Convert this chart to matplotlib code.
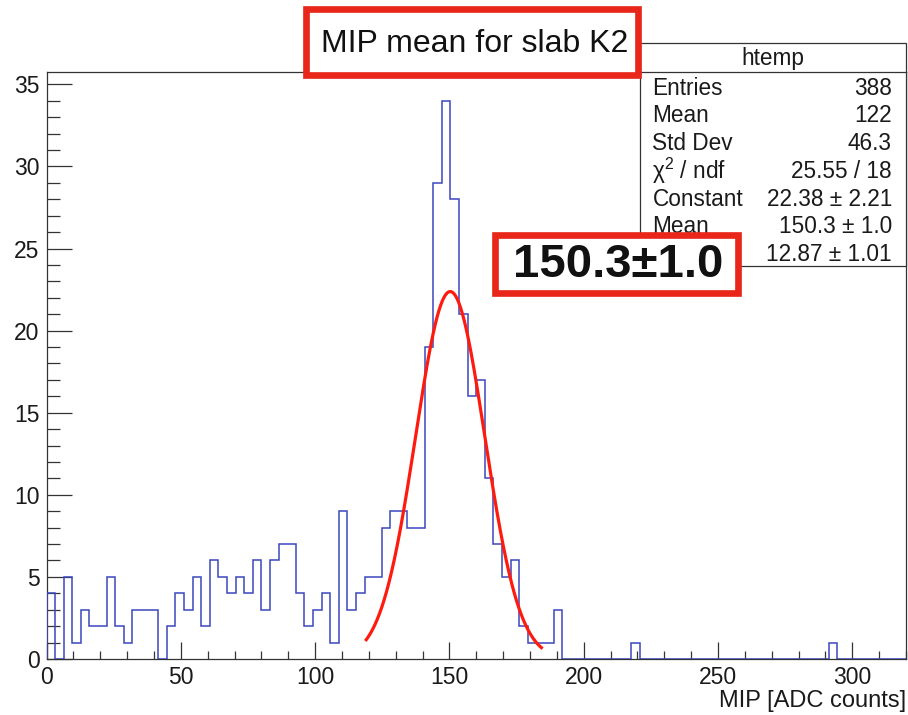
import numpy as np
import matplotlib
matplotlib.use("Agg")
import matplotlib.pyplot as plt
from matplotlib.ticker import MultipleLocator
from matplotlib.patches import Rectangle
from matplotlib.lines import Line2D

# ---------------- data ----------------
bin_lo, bin_hi, n_bins = 0.0, 320.0, 100
counts = [
    4, 0, 5, 1, 3, 2, 2, 5, 2, 1,
    3, 3, 3, 0, 2, 4, 3, 5, 2, 6,
    5, 4, 5, 4, 6, 3, 6, 7, 7, 4,
    2, 3, 4, 1, 9, 3, 4, 5, 5, 8,
    9, 9, 8, 8, 19, 29, 34, 28, 21, 16,
    17, 11, 7, 5, 6, 2, 1, 1, 1, 3,
    0, 0, 0, 0, 0, 0, 0, 0, 1, 0,
    0, 0, 0, 0, 0, 0, 0, 0, 0, 0,
    0, 0, 0, 0, 0, 0, 0, 0, 0, 0,
    0, 1, 0, 0, 0, 0, 0, 0, 0, 0,
]
fit_const, fit_mean, fit_sigma = 22.38, 150.3, 12.87
fit_range = (118.7, 184.7)

title = "MIP mean for slab K2"
xlabel = "MIP [ADC counts]"
stats_name = "htemp"
# last label ("Sigma") is hidden under the red highlight box in the reference
stats_labels = ["Entries", "Mean", "Std Dev", "χ$^{2}$ / ndf", "Constant", "Mean", ""]
stats_values = ["388", "122", "46.3", "25.55 / 18", "22.38 ± 2.21", "150.3 ± 1.0", "12.87 ± 1.01"]
highlight = "150.3±1.0"

# ---------------- style ----------------
plt.rcParams['font.family'] = ['Liberation Sans', 'DejaVu Sans']
plt.rcParams['mathtext.fontset'] = 'custom'
plt.rcParams['mathtext.rm'] = 'Liberation Sans'
plt.rcParams['mathtext.it'] = 'Liberation Sans:italic'

W, H = 908, 715
fig = plt.figure(figsize=(W / 100, H / 100), dpi=100)
fig.patch.set_facecolor('white')

def fx(px):
    return px / W

def fy(py):
    return 1 - py / H

ax_l, ax_r, ax_t, ax_b = 46.5, 906, 72, 659
ax = fig.add_axes([fx(ax_l), fy(ax_b), (ax_r - ax_l) / W, (ax_b - ax_t) / H])

edges = np.linspace(bin_lo, bin_hi, n_bins + 1)
hist_color = '#3a46bd'
ax.stairs(counts, edges, baseline=0, fill=False, color=hist_color, lw=1.1, zorder=3)

xf = np.linspace(fit_range[0], fit_range[1], 300)
yf = fit_const * np.exp(-0.5 * ((xf - fit_mean) / fit_sigma) ** 2)
ax.plot(xf, yf, color='#ff1a0e', lw=2.3, zorder=4, solid_capstyle='butt')

ax.set_xlim(bin_lo, bin_hi)
ax.set_ylim(0, 35.75)

ax.xaxis.set_major_locator(MultipleLocator(50))
ax.xaxis.set_minor_locator(MultipleLocator(10))
ax.yaxis.set_major_locator(MultipleLocator(5))
ax.yaxis.set_minor_locator(MultipleLocator(1))

spine_c = '#333333'
for s in ax.spines.values():
    s.set_color(spine_c)
    s.set_linewidth(0.9)
ax.tick_params(axis='x', which='major', direction='in', length=12.3, width=0.9,
               color=spine_c, labelsize=16.5, pad=5, top=False, labelcolor='#1a1a1a')
ax.tick_params(axis='x', which='minor', direction='in', length=6.1, width=0.9,
               color=spine_c, top=False)
ax.tick_params(axis='y', which='major', direction='in', length=18, width=0.9,
               color=spine_c, labelsize=16.5, pad=5, right=False, labelcolor='#1a1a1a')
ax.tick_params(axis='y', which='minor', direction='in', length=9, width=0.9,
               color=spine_c, right=False)

fig.text(fx(906), fy(701), xlabel, ha='right', va='center', fontsize=17, color='#1a1a1a')

# ---------------- stats box ----------------
sb_l, sb_r, sb_t, sb_b = 640, 906, 43, 266
fig.add_artist(Rectangle((fx(sb_l), fy(sb_b)), (sb_r - sb_l) / W, (sb_b - sb_t) / H,
                         transform=fig.transFigure, facecolor='white',
                         edgecolor=spine_c, lw=0.9, zorder=5))
fig.add_artist(Line2D([fx(sb_l), fx(sb_r)], [fy(71.8), fy(71.8)],
                      transform=fig.transFigure, color=spine_c, lw=0.9, zorder=6))
fig.text(fx((sb_l + sb_r) / 2), fy(59), stats_name, ha='center', va='center',
         fontsize=16.3, color='#1a1a1a', zorder=7)
row_y0, row_dy = 88.3, 27.7
for i, (lab, val) in enumerate(zip(stats_labels, stats_values)):
    y = row_y0 + i * row_dy
    if lab:
        fig.text(fx(652.5), fy(y), lab, ha='left', va='center', fontsize=16.3,
                 color='#1a1a1a', zorder=7)
    fig.text(fx(892), fy(y), val, ha='right', va='center', fontsize=16.3,
             color='#1a1a1a', zorder=7)

# ---------------- red highlight boxes ----------------
red = '#e8261a'
red_lw = 4.8
# title box
tb = (306, 638.4, 9.3, 74.7)
fig.add_artist(Rectangle((fx(tb[0]), fy(tb[3])), (tb[1] - tb[0]) / W, (tb[3] - tb[2]) / H,
                         transform=fig.transFigure, facecolor='white',
                         edgecolor=red, lw=red_lw, zorder=10))
fig.text(fx(474.5), fy(44), title, ha='center', va='center', fontsize=23,
         color='#111111', zorder=11)
# fitted-mean box
hb = (495.3, 738.3, 235.3, 292.7)
fig.add_artist(Rectangle((fx(hb[0]), fy(hb[3])), (hb[1] - hb[0]) / W, (hb[3] - hb[2]) / H,
                         transform=fig.transFigure, facecolor='white',
                         edgecolor=red, lw=red_lw, zorder=10))
fig.text(fx(618), fy(265), highlight, ha='center', va='center', fontsize=34,
         fontweight='bold', color='#111111', zorder=11)

fig.savefig('out.png', dpi=100)
